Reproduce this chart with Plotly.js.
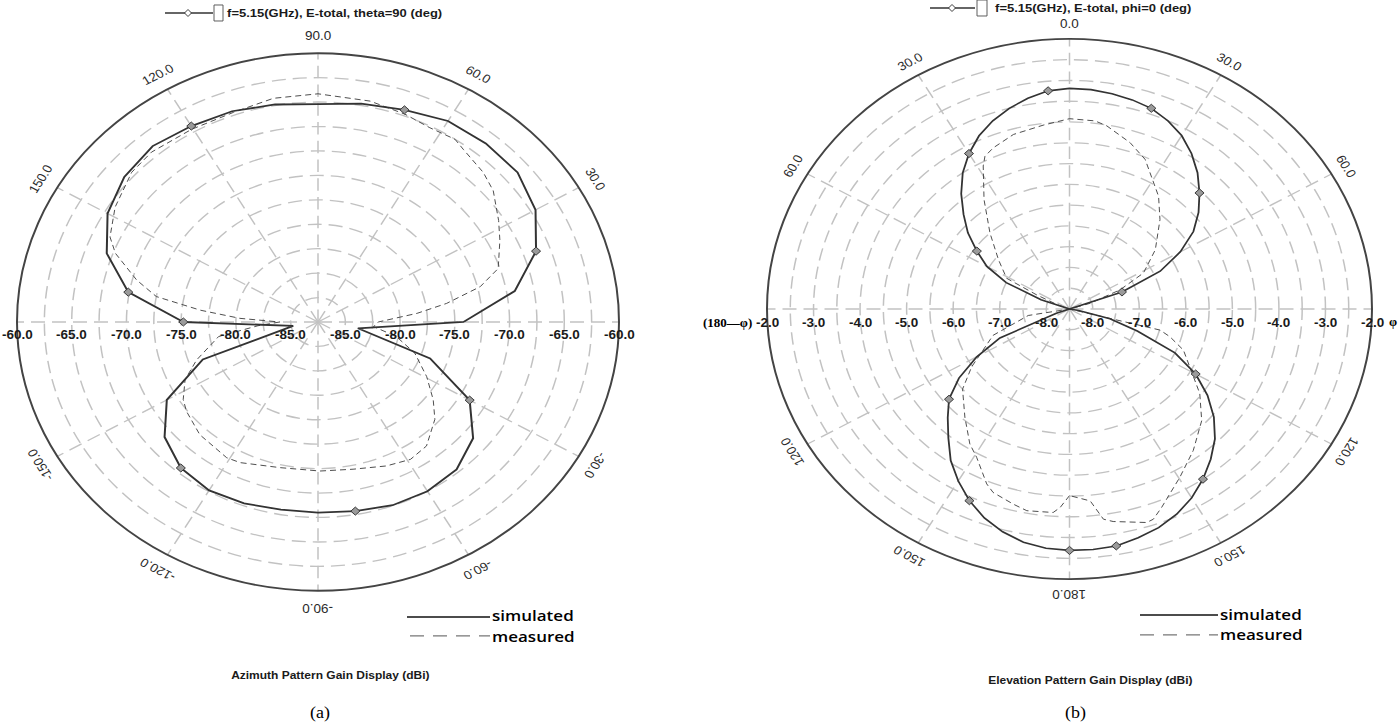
<!DOCTYPE html>
<html><head><meta charset="utf-8">
<script src="https://cdn.plot.ly/plotly-3.0.1.min.js"></script>
<style>
html,body{margin:0;padding:0;background:#fff;overflow:hidden;width:1400px;height:725px;}
#chart{width:1400px;height:812px;transform:scaleY(0.892857);transform-origin:0 0;}
</style></head><body><div id="chart"></div>
<script>
// ---------------- DATA ----------------
// (a) Azimuth pattern, theta = 90 deg (phi in degrees, gain in dBi)
const azSimTheta = [-180,-170,-160,-150,-140,-130,-120,-110,-100,-90,-80,-70,-60,-50,-40,-30,-20,-10,0,10,20,30,40,50,60,70,80,90,100,110,120,130,140,150,160,170,180];
const azSimR = [-75.2,-85.2,-76.3,-71.55,-69.2,-68.0,-67.6,-67.75,-68.0,-68.0,-67.85,-67.55,-67.5,-67.8,-69.0,-71.5,-76.6,-83.8,-74.2,-69.25,-66.3,-64.55,-63.7,-63.65,-63.75,-64.4,-64.8,-65.2,-64.9,-64.55,-64.35,-64.0,-64.4,-65.3,-66.96,-69.9,-75.2];
const azMeasTheta = [-180,-176,-170.7,-160.7,-154.1,-147.2,-142.7,-133.1,-121,-116.3,-103.1,-89.3,-78,-67,-59,-52,-43,-37.1,-29.4,-19.8,-11.7,-5.3,0,5.6,9.2,13.7,18.4,26.7,32.2,40,45.4,53.1,56.2,62.8,69.5,78.1,90,100.1,109.8,120.4,131.2,138,147.6,155.4,159.2,165.5,170,173.6,177,180];
const azMeasR = [-84,-82,-78.3,-75.75,-74.0,-72.85,-72.4,-71.7,-71.3,-71.45,-72.2,-72.25,-72.1,-71.5,-71.1,-71.4,-72.9,-74.3,-76.1,-78.1,-80.2,-82.4,-82,-78.4,-75.6,-72.25,-70.15,-68.9,-68.0,-66.6,-66.0,-65.4,-65.0,-65.15,-64.8,-64.4,-64.15,-64.25,-64.7,-64.65,-64.4,-64.6,-65.55,-66.6,-67.7,-70.4,-72.5,-76.7,-80.35,-84];

// (b) Elevation pattern, phi = 0 deg (theta in degrees, gain in dBi)
const elSimTheta = [-180,-175,-170,-165,-160,-155,-150,-145,-140,-135,-130,-125,-120,-115,-110,-105,-100,-95,-90,-85,-80,-75,-70,-65,-60,-55,-50,-45,-40,-35,-30,-25,-20,-15,-10,-5,0,5,10,15,20,25,30,35,40,45,50,55,60,65,70,75,80,85,90,95,100,105,110,115,120,125,130,135,140,145,150,155,160,165,170,175,180];
const elSimR = [-2.69,-2.72,-2.8,-2.95,-3.15,-3.41,-3.72,-4.05,-4.45,-4.8,-5.12,-5.6,-6.2,-6.85,-8.2,-8.5,-8.5,-8.5,-8.5,-8.5,-8.5,-8.5,-7.85,-7.0,-6.45,-6.07,-5.65,-5.28,-4.88,-4.5,-4.18,-3.9,-3.68,-3.5,-3.35,-3.23,-3.19,-3.2,-3.24,-3.29,-3.36,-3.5,-3.68,-3.93,-4.22,-4.55,-4.88,-5.25,-5.75,-6.35,-7.3,-8.5,-8.5,-8.5,-8.5,-8.5,-8.3,-7.6,-6.95,-6.0,-5.37,-4.88,-4.45,-4.08,-3.78,-3.5,-3.25,-3.05,-2.9,-2.8,-2.71,-2.69,-2.69];
const elMeasTheta = [-180,-177.6,-175.9,-169.3,-165.6,-159.6,-157.1,-150.8,-146.6,-139.2,-130,-123.5,-111.1,-100,-90,-75,-68,-64.3,-61.3,-52.2,-43.1,-34.9,-28.3,-26.3,-22.9,-16,-7.3,0,6.9,10.3,18,24.3,35.2,42.1,52.3,61.4,67,72.8,80,95,98,104.6,107.2,112,126,133.4,142,149.6,157.5,160.4,162.1,169.6,171.8,174.5,180];
const elMeasR = [-4.01,-3.72,-3.59,-3.56,-3.65,-3.79,-3.93,-4.41,-4.61,-5.06,-5.5,-5.98,-6.74,-7.6,-8.5,-8.5,-8.2,-7.72,-6.96,-6.57,-6.0,-5.29,-4.59,-4.4,-4.29,-4.13,-4.04,-3.92,-3.94,-4.02,-4.29,-4.55,-5.18,-5.6,-6.17,-6.69,-7.32,-8.04,-8.5,-8.5,-8.5,-6.49,-6.24,-5.86,-5.04,-4.59,-4.18,-3.81,-3.33,-3.13,-3.1,-3.3,-3.39,-3.86,-4.01];

// Axis ticks
const azRange = [-87.5,-60];
const azRings = [-85,-82.5,-80,-77.5,-75,-72.5,-70,-67.5,-65,-62.5];
const azRadLabelVals = [-60,-65,-70,-75,-80,-85];
const azRadLabelText = ['-60.0','-65.0','-70.0','-75.0','-80.0','-85.0'];
const azAngVals = [90,60,30,120,150,-30,-60,-90,-120,-150];
const azAngText = ['90.0','60.0','30.0','120.0','150.0','-30.0','-60.0','-90.0','-120.0','-150.0'];

const elRange = [-8.5,-2];
const elRings = [-8,-7.5,-7,-6.5,-6,-5.5,-5,-4.5,-4,-3.5,-3,-2.5];
const elRadLabelVals = [-2,-3,-4,-5,-6,-7,-8];
const elRadLabelText = ['-2.0','-3.0','-4.0','-5.0','-6.0','-7.0','-8.0'];
const elAngVals = [0,30,60,120,150,180,210,240,300,330];
const elAngText = ['0.0','30.0','60.0','120.0','150.0','180.0','150.0','120.0','60.0','30.0'];

const spokes = [0,30,60,90,120,150,180,210,240,270,300,330];

// ---------------- LAYOUT HELPERS ----------------
const W = 1400, H = 812, S = 725/812;
const xp = x => x / W;
const yp = yRef => 1 - (yRef / S) / H;
const ypd = yDiv => 1 - yDiv / H;

const PL = {cx: 318, cy: 322 / S, R: 301};
const PR = {cx: 1069.5, cy: 309 / S, R: 302.5};
const dom = p => ({x: [(p.cx - p.R) / W, (p.cx + p.R) / W], y: [ypd(p.cy + p.R), ypd(p.cy - p.R)]});

const GRID = '#c2c2c2', DASH = '14px,7px', DARK = '#333';
const FONT = 'Liberation Sans, Arial, sans-serif';

function polarLayout(p, rng, rings, rot, dir) {
  return {
    domain: dom(p), bgcolor: 'rgba(0,0,0,0)',
    radialaxis: {range: rng, tickmode: 'array', tickvals: rings, showticklabels: false, ticks: '',
      showline: false, gridcolor: GRID, gridwidth: 1.5, griddash: DASH, angle: 0},
    angularaxis: {rotation: rot, direction: dir, tickmode: 'array', tickvals: spokes, showticklabels: false,
      ticks: '', showline: true, linecolor: '#444', linewidth: 2, gridcolor: GRID, gridwidth: 1.5, griddash: DASH}
  };
}

function every5(th, r, rmin) {
  const t = [], v = [];
  th.forEach((a, i) => { if (i % 5 === 0 && r[i] > rmin) { t.push(a); v.push(r[i]); } });
  return {t, v};
}

const azMk = every5(azSimTheta, azSimR, azRange[0]);
const elMk = every5(elSimTheta, elSimR, elRange[0]);

const mk = {symbol: 'diamond', size: 7, color: '#9a9a9a', line: {color: '#333', width: 1}};

const traces = [
  {type: 'scatterpolar', subplot: 'polar', r: azMeasR, theta: azMeasTheta, mode: 'lines',
    line: {color: '#444', width: 1, dash: '6px,4px'}, name: 'measured'},
  {type: 'scatterpolar', subplot: 'polar', r: azSimR, theta: azSimTheta, mode: 'lines',
    line: {color: DARK, width: 2}, name: 'simulated'},
  {type: 'scatterpolar', subplot: 'polar', r: azMk.v, theta: azMk.t, mode: 'markers', marker: mk, name: 'sim markers'},
  {type: 'scatterpolar', subplot: 'polar2', r: elMeasR, theta: elMeasTheta, mode: 'lines',
    line: {color: '#444', width: 1, dash: '6px,4px'}, name: 'measured'},
  {type: 'scatterpolar', subplot: 'polar2', r: elSimR, theta: elSimTheta, mode: 'lines',
    line: {color: DARK, width: 1.8}, name: 'simulated'},
  {type: 'scatterpolar', subplot: 'polar2', r: elMk.v, theta: elMk.t, mode: 'markers', marker: mk, name: 'sim markers'}
];

// ---------------- ANNOTATIONS ----------------
const ann = [];
const norm = a => { a = ((a % 360) + 360) % 360; return a > 180 ? a - 360 : a; };

function angLabels(p, vals, texts, toMath, off) {
  vals.forEach((v, i) => {
    const a = toMath(v) * Math.PI / 180;
    const x = p.cx + (p.R + off) * Math.cos(a);
    const y = p.cy - (p.R + off) * Math.sin(a);
    ann.push({x: xp(x), y: ypd(y), xref: 'paper', yref: 'paper', text: texts[i], showarrow: false,
      xanchor: 'center', yanchor: 'middle', textangle: norm(90 - toMath(v)),
      font: {family: FONT, size: 13.5, color: '#2a2a2a'}});
  });
}
angLabels(PL, azAngVals, azAngText, v => v, 19);
angLabels(PR, elAngVals, elAngText, v => 90 - v, 17);

function radLabels(p, rng, vals, texts) {
  vals.forEach((v, i) => {
    const d = (v - rng[0]) / (rng[1] - rng[0]) * p.R;
    [-1, 1].forEach(s => {
      ann.push({x: xp(p.cx + s * d), y: ypd(p.cy + 15), xref: 'paper', yref: 'paper', text: texts[i],
        showarrow: false, xanchor: 'center', yanchor: 'middle',
        font: {family: FONT, size: 13.5, color: '#1a1a1a', weight: 'bold'}});
    });
  });
}
radLabels(PL, azRange, azRadLabelVals, azRadLabelText);
radLabels(PR, elRange, elRadLabelVals, elRadLabelText);

function txt(x, y, t, font, extra) {
  ann.push(Object.assign({x: xp(x), y: yp(y), xref: 'paper', yref: 'paper', text: t, showarrow: false,
    xanchor: 'left', yanchor: 'middle', font: font}, extra || {}));
}
const legFont = {family: FONT, size: 13, color: '#1a1a1a', weight: 'bold'};
const keyFont = {family: 'Open Sans, sans-serif', size: 17, color: '#000', weight: 600};
const ttlFont = {family: FONT, size: 12, color: '#1a1a1a', weight: 'bold'};
const capFont = {family: 'Liberation Serif, Times New Roman, serif', size: 18, color: '#000'};
const phiFont = {family: 'Liberation Serif, serif', size: 13, color: '#000', weight: 'bold'};
// top legends
txt(225, 13, 'f=5.15(GHz), E-total, theta=90 (deg)', legFont);
txt(993, 8, 'f=5.15(GHz), E-total, phi=0 (deg)', legFont);
// bottom legends
txt(491, 615, 'simulated', keyFont, {borderpad: 0});
txt(491, 636, 'measured', keyFont, {borderpad: 0});
txt(1219, 613.5, 'simulated', keyFont, {borderpad: 0});
txt(1219, 634.5, 'measured', keyFont, {borderpad: 0});
// titles
txt(330, 675, 'Azimuth Pattern Gain Display (dBi)', ttlFont, {xanchor: 'center'});
txt(1090, 680, 'Elevation Pattern Gain Display (dBi)', ttlFont, {xanchor: 'center'});
// captions
txt(320, 713, '(a)', capFont, {xanchor: 'center'});
txt(1075, 713, '(b)', capFont, {xanchor: 'center'});
// axis end markers of (b)
txt(754, 323, '(180—φ)', phiFont, {xanchor: 'right'});
txt(1387, 322, 'φ', phiFont);

// ---------------- SHAPES (legend glyphs) ----------------
const shapes = [];
function hline(x0, x1, y, color, width, dash) {
  shapes.push({type: 'line', xref: 'paper', yref: 'paper', x0: xp(x0), x1: xp(x1), y0: yp(y), y1: yp(y),
    line: {color, width, dash: dash || 'solid'}});
}
function diamond(x, y, s) {
  shapes.push({type: 'path', xref: 'paper', yref: 'paper',
    path: `M ${xp(x - s)},${yp(y)} L ${xp(x)},${yp(y - s)} L ${xp(x + s)},${yp(y)} L ${xp(x)},${yp(y + s)} Z`,
    fillcolor: '#fff', line: {color: '#333', width: 1}});
}
function box(x0, y0, x1, y1) {
  shapes.push({type: 'rect', xref: 'paper', yref: 'paper', x0: xp(x0), x1: xp(x1), y0: yp(y1), y1: yp(y0),
    fillcolor: '#fff', line: {color: '#555', width: 1}});
}
hline(165, 213, 13, '#333', 1.5); diamond(188, 13, 3.5); box(214, 5, 223, 21);
hline(930, 975, 8, '#333', 1.5); diamond(952, 8, 3.5); box(977, 0, 987, 16);
hline(407, 490, 617, '#111', 1.8); hline(410, 490, 636, '#777', 1.4, '14px,9px');
hline(1140, 1218, 615, '#111', 1.8); hline(1140, 1218, 635, '#777', 1.4, '14px,9px');

const layout = {
  width: W, height: H, margin: {l: 0, r: 0, t: 0, b: 0},
  paper_bgcolor: '#fff', showlegend: false,
  polar: polarLayout(PL, azRange, azRings, 0, 'counterclockwise'),
  polar2: polarLayout(PR, elRange, elRings, 90, 'clockwise'),
  annotations: ann, shapes: shapes
};

Plotly.newPlot('chart', traces, layout, {displayModeBar: false, staticPlot: true});
</script></body></html>
